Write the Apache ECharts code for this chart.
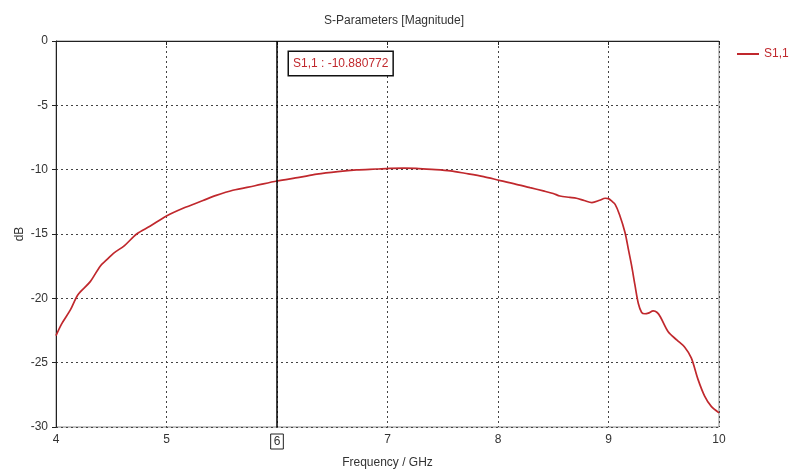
<!DOCTYPE html>
<html><head><meta charset="utf-8">
<script src="https://cdn.jsdelivr.net/npm/echarts@6/dist/echarts.min.js"></script>
<style>html,body{margin:0;padding:0;background:#fff}#c{width:789px;height:469px}</style>
</head><body><div id="c"></div>
<script>
const freqGHz = [4.0, 4.05, 4.13, 4.2, 4.31, 4.4, 4.46, 4.52, 4.62, 4.73, 4.85, 5.0, 5.15, 5.33, 5.45, 5.6, 5.8, 6.0, 6.2, 6.36, 6.55, 6.72, 6.9, 7.02, 7.15, 7.26, 7.4, 7.57, 7.7, 7.87, 8.02, 8.15, 8.29, 8.41, 8.5, 8.56, 8.65, 8.71, 8.78, 8.85, 8.92, 8.97, 9.0, 9.03, 9.06, 9.1, 9.15, 9.18, 9.21, 9.24, 9.27, 9.3, 9.33, 9.36, 9.405, 9.44, 9.47, 9.54, 9.62, 9.69, 9.75, 9.81, 9.87, 9.93, 10.0];
const s11dB = [-22.9, -22.0, -20.9, -19.7, -18.7, -17.5, -17.0, -16.5, -15.9, -15.0, -14.4, -13.6, -13.0, -12.4, -12.0, -11.6, -11.25, -10.88, -10.6, -10.35, -10.15, -10.02, -9.95, -9.9, -9.88, -9.9, -9.98, -10.1, -10.28, -10.54, -10.85, -11.1, -11.4, -11.65, -11.85, -12.05, -12.15, -12.22, -12.4, -12.56, -12.38, -12.22, -12.25, -12.45, -12.7, -13.5, -14.9, -16.2, -17.5, -19.0, -20.4, -21.1, -21.2, -21.15, -20.98, -21.1, -21.45, -22.6, -23.25, -23.8, -24.65, -26.3, -27.6, -28.4, -28.9];
const markerFreq = 6;
const markerValue = -10.880772;
const seriesName = 'S1,1';
const xTicks = [4, 5, 6, 7, 8, 9, 10];
const yTicks = [0, -5, -10, -15, -20, -25, -30];

const font = '"Liberation Sans", Arial, sans-serif';
const red = '#c0282d';
const chart = echarts.init(document.getElementById('c'), null, {renderer: 'canvas'});
chart.setOption({
  animation: false,
  backgroundColor: '#fff',
  textStyle: {fontFamily: font},
  title: {
    text: 'S-Parameters [Magnitude]', left: 389, top: 10, textAlign: 'center',
    textStyle: {fontSize: 12, fontWeight: 'normal', color: '#333', fontFamily: font}
  },
  legend: {
    data: [seriesName], left: 732, top: 43, icon: 'rect', itemWidth: 22, itemHeight: 2,
    itemGap: 6, textStyle: {color: red, fontSize: 12, fontFamily: font}
  },
  grid: {left: 56, right: 70, top: 41, bottom: 42, show: true, borderColor: '#8a8a8a', borderWidth: 1,
         containLabel: false, outerBoundsMode: 'none'},
  xAxis: {
    type: 'value', min: xTicks[0], max: xTicks[xTicks.length - 1], interval: 1,
    name: 'Frequency / GHz', nameLocation: 'middle', nameGap: 30,
    nameTextStyle: {fontSize: 12, color: '#333', fontFamily: font},
    axisLine: {lineStyle: {color: '#222', width: 1}},
    axisTick: {show: true, length: 4, lineStyle: {color: '#222'}},
    axisLabel: {
      fontSize: 12, color: '#333', margin: 7, fontFamily: font,
      formatter: v => v === markerFreq ? '{box|' + v + '}' : String(v),
      rich: {box: {borderColor: '#222', borderWidth: 1, padding: [2, 3, 1, 3], fontSize: 12, color: '#333', fontFamily: font}}
    },
    splitLine: {show: true, lineStyle: {color: '#444', type: [2, 3], width: 1}}
  },
  yAxis: {
    type: 'value', min: yTicks[yTicks.length - 1], max: yTicks[0], interval: 5,
    name: 'dB', nameLocation: 'middle', nameGap: 30, nameMoveOverlap: false,
    nameTextStyle: {fontSize: 12, color: '#333', fontFamily: font},
    axisLine: {show: true, lineStyle: {color: '#222', width: 1}},
    axisTick: {show: true, length: 4, lineStyle: {color: '#222'}},
    axisLabel: {fontSize: 12, color: '#333', margin: 8, fontFamily: font},
    splitLine: {show: true, lineStyle: {color: '#444', type: [2, 3], width: 1}}
  },
  series: [{
    name: seriesName, type: 'line', showSymbol: false, smooth: 0.3,
    data: freqGHz.map((f, i) => [f, s11dB[i]]),
    lineStyle: {color: red, width: 1.7}, itemStyle: {color: red},
    markLine: {
      silent: true, symbol: 'none', label: {show: false},
      lineStyle: {color: '#000', type: 'solid', width: 1.5},
      data: [{xAxis: markerFreq}]
    },
    markPoint: {
      silent: true, symbol: 'rect', symbolSize: 0,
      data: [{coord: [markerFreq, 0], value: markerValue}],
      label: {
        show: true, position: 'insideTopLeft', offset: [7, 6],
        formatter: p => seriesName + ' : ' + p.value,
        color: red, fontSize: 12, fontFamily: font,
        borderColor: '#111', borderWidth: 1.5, padding: [6, 4, 5, 4], backgroundColor: '#fff'
      }
    }
  }]
});
</script></body></html>
